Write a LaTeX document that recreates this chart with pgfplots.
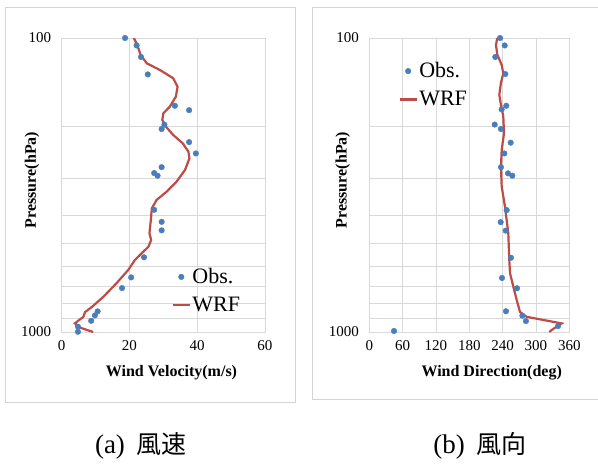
\documentclass[border=0pt]{standalone}
\usepackage{fontspec}
\setmainfont{Liberation Serif}
\newfontfamily\cjk{Noto Sans CJK JP}
\usepackage{pgfplots}
\pgfplotsset{compat=1.18}

\definecolor{obsblue}{HTML}{4A7EBB}
\definecolor{wrfred}{HTML}{BE4B48}
\definecolor{gridgray}{HTML}{D9D9D9}
\definecolor{framegray}{HTML}{D4D4D4}

\pgfplotsset{wxpanel/.style={
  scale only axis, height=294pt,
  y dir=reverse, ymin=100, ymax=1000,
  ytick={100,1000}, yticklabels={100,1000},
  minor ytick={200,300,400,500,600,700,800,900},
  ymajorgrids, yminorgrids, xmajorgrids,
  grid style={gridgray, line width=0.8pt},
  minor grid style={gridgray, line width=0.8pt},
  axis line style={gridgray, line width=0.8pt},
  major tick style={draw=none}, minor tick style={draw=none},
  ticklabel style={font=\fontsize{15}{17}\selectfont},
  /pgf/number format/assume math mode=true,
  xticklabel style={yshift=-5pt},
  yticklabel style={xshift=-7pt},
  label style={font=\bfseries\fontsize{16}{18}\selectfont},
  legend style={draw=none, fill=none, font=\fontsize{22}{24}\selectfont, row sep=9pt,
    inner sep=1pt, nodes={inner sep=1.5pt}},
  legend cell align=left,
}}

\begin{document}
\begin{tikzpicture}
\useasboundingbox (0pt,0pt) rectangle (598pt,465pt);
\draw[framegray, line width=0.8pt] (5pt,63pt) rectangle (295pt,458pt);
\draw[framegray, line width=0.8pt] (312.7pt,66pt) rectangle (600pt,458pt);

% (a) wind velocity
\begin{semilogyaxis}[wxpanel, at={(61.7pt,133pt)}, anchor=south west, width=203.3pt,
  xmin=0, xmax=60, xtick={0,20,40,60},
  xlabel={Wind Velocity(m/s)},
  xlabel style={at={(axis description cs:0.54,-0.14)}, anchor=center},
  ylabel={Pressure(hPa)},
  ylabel style={at={(axis description cs:-0.146,0.517)}, anchor=center},
  legend style={at={(axis description cs:0.535,0.14)}, anchor=west}]
\addplot[only marks, mark=*, mark size=2.8pt, color=obsblue, mark options={draw=obsblue, fill=obsblue}] coordinates {
(18.7,100) (22.1,106) (23.4,116) (25.4,133) (33.4,170) (37.6,176) (30.3,197) (29.5,204)
(37.6,226) (39.6,247) (29.5,275) (27.3,288) (28.3,294) (27.3,384) (29.5,422) (29.5,451)
(24.3,557) (20.5,652) (17.8,709) (10.6,851) (9.8,878) (8.7,916) (4.8,959) (4.8,998)};
\addlegendentry{Obs.}
\addplot[wrfred, line width=2.2pt] coordinates {
(21.3,100) (22.3,105.6) (23.3,114.2) (25.1,121.9) (29.0,128.5) (32.9,137) (34.2,146.5)
(33.7,158.2) (31.9,171.3) (30.0,180.3) (29.7,190) (30.8,200.5) (32.9,213.7) (35.7,228)
(37.4,243.6) (37.7,256.7) (36.4,281) (33.9,308) (31.0,333) (28.0,355.6) (26.6,379.7)
(26.3,416.6) (25.9,461.3) (26.4,486.5) (25.6,512.6) (23.6,540) (21.6,569) (19.7,614)
(16.2,682) (12.3,759) (8.9,822) (6.9,855) (6.4,888) (3.9,934) (5.4,966) (9.3,1000)};
\addlegendentry{WRF}
\end{semilogyaxis}

% (b) wind direction
\begin{semilogyaxis}[wxpanel, at={(369.3pt,133pt)}, anchor=south west, width=200pt,
  xmin=0, xmax=360, xtick={0,60,120,180,240,300,360},
  xlabel={Wind Direction(deg)},
  xlabel style={at={(axis description cs:0.612,-0.14)}, anchor=center},
  ylabel={Pressure(hPa)},
  ylabel style={at={(axis description cs:-0.133,0.517)}, anchor=center},
  legend style={at={(axis description cs:0.14,0.84)}, anchor=west}]
\addplot[only marks, mark=*, mark size=2.8pt, color=obsblue, mark options={draw=obsblue, fill=obsblue}] coordinates {
(235.3,100) (243.7,106) (226.8,116) (244.8,132.6) (246.6,170) (238.3,175) (225.7,197)
(237,204) (254.5,227) (243,247) (237,275) (249.7,288.6) (257.4,294) (247.3,385)
(236.5,423) (245.5,452) (255,559) (238.9,655) (265.9,710) (246,850) (275.5,880)
(282,918) (339.7,955) (44.5,992)};
\addlegendentry{Obs.}
\addplot[wrfred, line width=2.2pt] coordinates {
(230.4,100) (228,105.6) (230.4,114) (238.3,123.5) (241.2,131.9) (237,141.9) (234,156)
(236.5,166.8) (241.2,185) (242.5,210.9) (238.3,240.5) (237,274) (238.3,320) (244.3,375)
(250.2,461.3) (252,569) (253.3,631) (259.2,700) (265.3,778) (271.3,855) (283.3,888)
(313.2,910) (346.3,935) (337.3,959) (328.3,984) (324,1000)};
\addlegendentry{WRF}
\end{semilogyaxis}

\node[inner sep=0pt] at (141pt,19pt) {\fontsize{27}{29}\selectfont(a)\hspace{12pt}{\cjk\fontsize{25}{27}\selectfont 風速}};
\node[inner sep=0pt] at (480pt,19pt) {\fontsize{27}{29}\selectfont(b)\hspace{12pt}{\cjk\fontsize{25}{27}\selectfont 風向}};
\end{tikzpicture}
\end{document}
